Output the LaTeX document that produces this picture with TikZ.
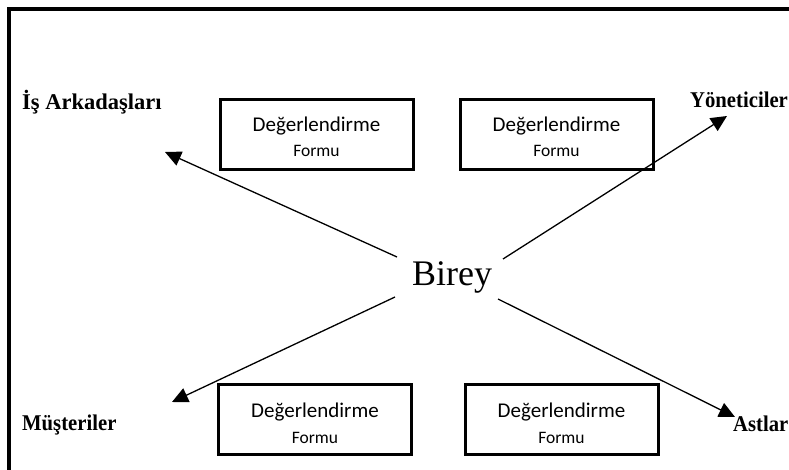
\documentclass[tikz,border=0pt]{standalone}
\usepackage{fontspec}
\setmainfont{Liberation Serif}
\newfontfamily\boxfont{Carlito}
\usetikzlibrary{arrows.meta}
\tikzset{
  formbox/.style={draw, line width=3pt, minimum width=193pt, minimum height=70pt, inner sep=0pt},
  bigtxt/.style={anchor=base, inner sep=0pt, font=\boxfont\fontsize{21}{25}\selectfont},
  smalltxt/.style={anchor=base, inner sep=0pt, font=\boxfont\fontsize{17.5}{21}\selectfont},
  who/.style={anchor=base west, inner sep=0pt, font=\bfseries\fontsize{22.5}{26}\selectfont},
  narrow/.style={xscale=0.92},
  conn/.style={line width=1.3pt, -{Triangle[length=16pt,width=15pt]}}
}
\begin{document}
\begin{tikzpicture}[x=1pt,y=-1pt]
\useasboundingbox (0,0) rectangle (789,470);
\clip (0,0) rectangle (789,470);
\draw[line width=3.4pt] (9,9) rectangle (805,485);
% boxes
\node[formbox] (b1) at (316.5,135) {};
\node[formbox] (b2) at (556.5,134.5) {};
\node[formbox] (b3) at (315,419) {};
\node[formbox] (b4) at (561.5,419) {};
\node[bigtxt] (t1) at (316.5,132) {Değerlendirme};
\node[smalltxt] (f1) at (316.5,157) {Formu};
\node[bigtxt] (t2) at (556.5,132) {Değerlendirme};
\node[smalltxt] (f2) at (556.5,157) {Formu};
\node[bigtxt] (t3) at (315,417) {Değerlendirme};
\node[smalltxt] (f3) at (315,443) {Formu};
\node[bigtxt] (t4) at (561.5,417) {Değerlendirme};
\node[smalltxt] (f4) at (561.5,443) {Formu};
% labels
\node[who] (ia) at (22,110) {İş Arkadaşları};
\node[who, narrow] (yo) at (690,108) {Yöneticiler};
\node[who, narrow] (mu) at (22,430) {Müşteriler};
\node[who, narrow] (as) at (733,431) {Astlar};
% centre
\node[anchor=base, inner sep=0pt, font=\fontsize{36}{40}\selectfont] (birey) at (452,285) {Birey};
% arrow ends
\coordinate (s1) at (397,257);
\coordinate (s2) at (503,259);
\coordinate (s3) at (395,297);
\coordinate (s4) at (498,299);
\coordinate (e1) at (165,152);
\coordinate (e2) at (727,116);
\coordinate (e3) at (172,402);
\coordinate (e4) at (735,417);
\draw[conn] (s1) -- (e1);
\draw[conn] (s2) -- (e2);
\draw[conn] (s3) -- (e3);
\draw[conn] (s4) -- (e4);
\end{tikzpicture}
\end{document}
